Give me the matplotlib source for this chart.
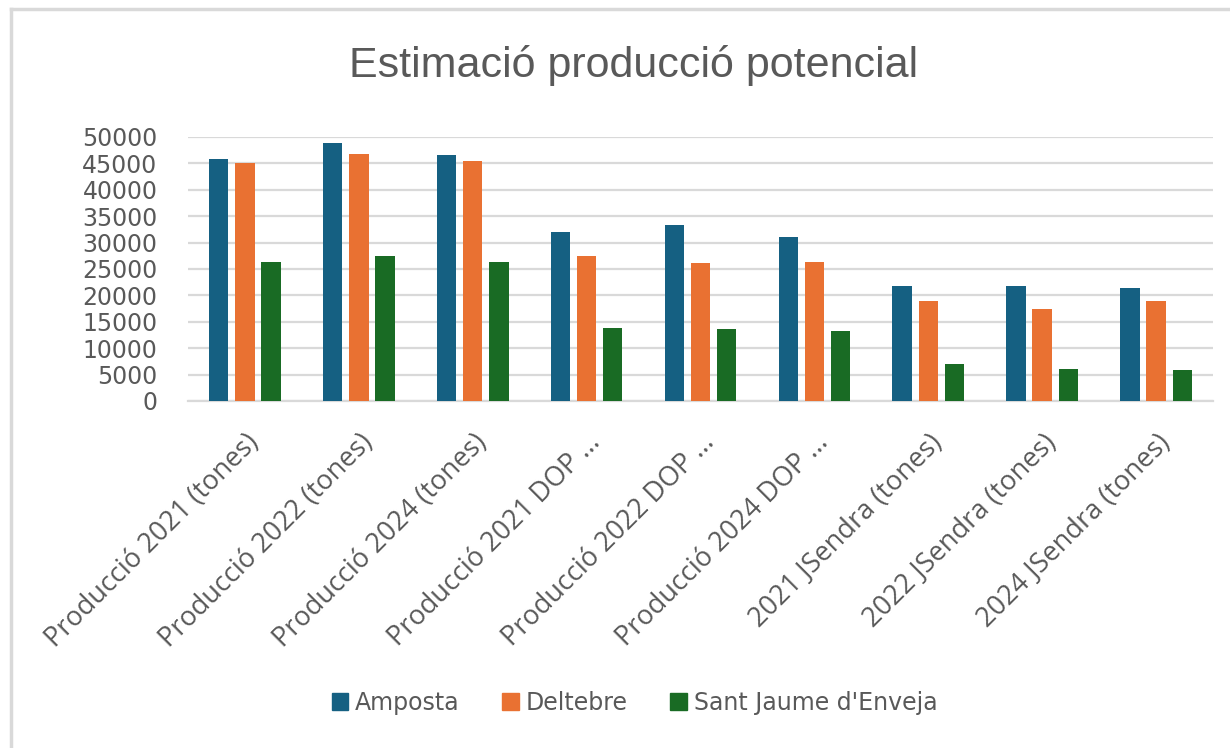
import numpy as np
import matplotlib
matplotlib.use('Agg')
import matplotlib.pyplot as plt
from matplotlib.lines import Line2D

# dades llegides del gràfic
categories = ['Producció 2021 (tones)', 'Producció 2022 (tones)', 'Producció 2024 (tones)',
              'Producció 2021 DOP ...', 'Producció 2022 DOP ...', 'Producció 2024 DOP ...',
              '2021 JSendra (tones)', '2022 JSendra (tones)', '2024 JSendra (tones)']
amposta = [45800, 48900, 46500, 32100, 33300, 31150, 21750, 21750, 21450]
deltebre = [45000, 46800, 45500, 27400, 26100, 26400, 18900, 17400, 18900]
sant_jaume = [26400, 27400, 26400, 13900, 13600, 13300, 7050, 6100, 5800]
series_names = ['Amposta', 'Deltebre', "Sant Jaume d'Enveja"]
colors = ['#156082', '#E97132', '#196B24']
yticks = list(range(0, 50001, 5000))

text_col = '#595959'
grid_col = '#D9D9D9'

fig = plt.figure(figsize=(12.3, 7.48), dpi=100)
ax = fig.add_axes([188/1230, 1-401/748, (1213-188)/1230, (401-137)/748])

x = np.arange(len(categories))
w = 0.17
step = 0.23
for i, (vals, name, col) in enumerate(zip([amposta, deltebre, sant_jaume], series_names, colors)):
    ax.bar(x + (i-1)*step, vals, width=w, color=col, label=name, zorder=3)

ax.set_xlim(-0.5, len(categories)-0.5)
ax.set_ylim(0, 50000)
ax.set_yticks(yticks)
ax.set_yticklabels([str(t) for t in yticks], fontsize=17, color=text_col, family='DejaVu Sans')
ax.tick_params(axis='y', length=0, pad=22)
ax.tick_params(axis='x', length=0, pad=20)
ax.grid(axis='y', color=grid_col, linewidth=1.6, zorder=0)
for s in ['top', 'right', 'left']:
    ax.spines[s].set_visible(False)
ax.spines['bottom'].set_color(grid_col)
ax.spines['bottom'].set_linewidth(1.6)

ax.set_xticks(x)
ax.set_xticklabels(categories, rotation=45, ha='right', rotation_mode='anchor',
                   fontsize=19.5, color=text_col, family='Open Sans')

fig.text(0.515, 1-66/748, 'Estimació producció potencial', ha='center', va='center',
         fontsize=31, color=text_col, family='Liberation Sans')

handles = [plt.Rectangle((0, 0), 1, 1, color=c) for c in colors]
fig.legend(handles, series_names, loc='center', bbox_to_anchor=(0.516, 1-703/748), ncol=3,
           frameon=False, handlelength=0.7, handleheight=0.7, handletextpad=0.3,
           columnspacing=1.8, prop={'family': 'DejaVu Sans', 'size': 17}, labelcolor=text_col)

# marc del gràfic
fig.add_artist(Line2D([11/1230, 11/1230], [0, 1-9/748], transform=fig.transFigure,
                      color='#D9D9D9', linewidth=2.5))
fig.add_artist(Line2D([11/1230, 1], [1-9/748, 1-9/748], transform=fig.transFigure,
                      color='#D9D9D9', linewidth=2.5))

fig.savefig('out.png', dpi=100, facecolor='white')
